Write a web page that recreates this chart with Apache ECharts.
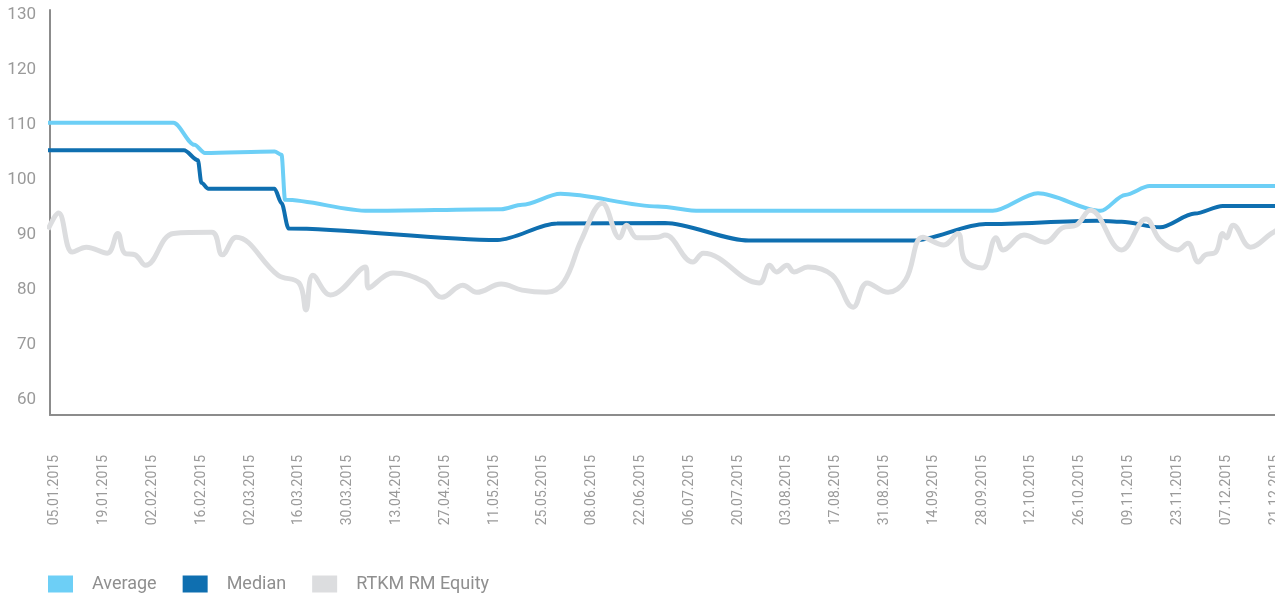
<!DOCTYPE html>
<html>
<head>
<meta charset="utf-8">
<style>
    html, body { margin: 0; padding: 0; background: #fff; }
    #chart { width: 1275px; height: 594px; }
</style>
</head>
<body>
<div id="chart"></div>
<script src="https://cdn.jsdelivr.net/npm/echarts@6/dist/echarts.min.js"></script>
<script>
    // x axis labels (every two weeks)
    let tickDates = ['2015-01-05','2015-01-19','2015-02-02','2015-02-16','2015-03-02','2015-03-16',
        '2015-03-30','2015-04-13','2015-04-27','2015-05-11','2015-05-25','2015-06-08','2015-06-22',
        '2015-07-06','2015-07-20','2015-08-03','2015-08-17','2015-08-31','2015-09-14','2015-09-28',
        '2015-10-12','2015-10-26','2015-11-09','2015-11-23','2015-12-07','2015-12-21'];
    let yTicks = [60, 70, 80, 90, 100, 110, 120, 130];

    let averageData = [
        ['2015-01-02',110.4],['2015-02-08',110.4],['2015-02-14',106.4],['2015-02-17',104.9],
        ['2015-03-09',105.2],['2015-03-11',104.6],['2015-03-12',96.4],['2015-04-05',94.4],
        ['2015-05-13',94.7],['2015-05-19',95.5],['2015-05-30',97.5],['2015-06-27',95.2],
        ['2015-07-09',94.4],['2015-10-01',94.4],['2015-10-14',97.6],['2015-11-01',94.4],
        ['2015-11-08',97.3],['2015-11-15',98.9],['2015-12-31',98.9]
    ];
    let medianData = [
        ['2015-01-02',105.4],['2015-02-11',105.4],['2015-02-15',103.6],['2015-02-16',99.5],
        ['2015-02-18',98.4],['2015-03-09',98.4],['2015-03-11',95.8],['2015-03-13',91.2],
        ['2015-05-12',89.1],['2015-05-29',92.1],['2015-06-29',92.2],['2015-07-23',89.0],
        ['2015-09-08',89.0],['2015-09-29',92.0],['2015-10-31',92.6],['2015-11-07',92.4],
        ['2015-11-18',91.4],['2015-11-28',93.9],['2015-12-06',95.3],['2015-12-31',95.3]
    ];
    let equityData = [
        ['2015-01-03',91.0],['2015-01-06',94.0],['2015-01-10',86.9],['2015-01-14',87.8],
        ['2015-01-20',86.7],['2015-01-23',90.3],['2015-01-25',86.7],['2015-01-28',86.4],
        ['2015-01-31',84.5],['2015-02-08',90.3],['2015-02-19',90.5],['2015-02-22',86.4],
        ['2015-02-26',89.6],['2015-03-10',82.7],['2015-03-16',81.3],['2015-03-18',76.4],
        ['2015-03-20',82.7],['2015-03-25',79.1],['2015-04-04',84.2],['2015-04-05',80.4],
        ['2015-04-12',83.1],['2015-04-21',81.5],['2015-04-26',78.7],['2015-05-02',80.9],
        ['2015-05-06',79.6],['2015-05-13',81.1],['2015-05-19',80.0],['2015-05-26',79.6],
        ['2015-05-31',81.5],['2015-06-05',89.1],['2015-06-11',95.8],['2015-06-16',89.5],
        ['2015-06-18',91.8],['2015-06-21',89.5],['2015-06-27',89.6],['2015-06-29',90.0],
        ['2015-07-07',85.1],['2015-07-10',86.7],['2015-07-26',81.3],['2015-07-29',84.5],
        ['2015-07-31',83.3],['2015-08-03',84.5],['2015-08-05',83.3],['2015-08-09',84.2],
        ['2015-08-16',82.7],['2015-08-22',76.9],['2015-08-26',81.3],['2015-09-01',79.6],
        ['2015-09-06',81.8],['2015-09-11',89.6],['2015-09-17',88.2],['2015-09-21',90.3],
        ['2015-09-23',85.5],['2015-09-28',84.0],['2015-10-02',89.5],['2015-10-04',87.3],
        ['2015-10-10',90.0],['2015-10-16',88.7],['2015-10-21',91.3],['2015-10-25',91.8],
        ['2015-10-29',94.5],['2015-11-07',87.3],['2015-11-14',92.9],['2015-11-18',89.1],
        ['2015-11-23',87.3],['2015-11-26',88.5],['2015-11-29',85.1],['2015-12-01',86.4],
        ['2015-12-04',86.9],['2015-12-06',90.3],['2015-12-07',89.5],['2015-12-09',91.8],
        ['2015-12-14',87.8],['2015-12-20',90.3],['2015-12-23',91.5]
    ];

    // days counted from 05.01.2015
    let day0 = Date.UTC(2015, 0, 5);
    function toDay(s){
        let p = s.split('-');
        return (Date.UTC(+p[0], +p[1] - 1, +p[2]) - day0) / 864e5;
    }
    function pad(n){ return (n < 10 ? '0' : '') + n; }
    function fmtDay(v){
        let d = new Date(day0 + Math.round(v) * 864e5);
        return pad(d.getUTCDate()) + '.' + pad(d.getUTCMonth() + 1) + '.' + d.getUTCFullYear();
    }
    function points(arr){
        return arr.map(function(i){ return [toDay(i[0]), i[1]]; });
    }

    let chart = echarts.init(document.getElementById('chart'));
    let option = {
        animation: false,
        backgroundColor: '#fff',
        grid: { left: 50, right: 0, top: 10, bottom: 179, containLabel: false, outerBoundsMode: 'none' },
        legend: {
            left: 43,
            top: 570,
            icon: 'rect',
            itemWidth: 25,
            itemHeight: 17,
            itemGap: 26,
            textStyle: { color: '#8f8f8f', fontSize: 18, fontFamily: 'Roboto', padding: [0, 0, 0, 14] },
            data: ['Average', 'Median', 'RTKM RM Equity']
        },
        xAxis: {
            type: 'value',
            min: -1.43,
            max: 350,
            splitLine: { show: false },
            axisLine: { onZero: false, lineStyle: { color: '#8c8c8c', width: 2 } },
            axisTick: { show: false },
            axisLabel: {
                rotate: 90,
                margin: 40,
                color: '#9a9a9a',
                fontSize: 14,
                fontFamily: 'Roboto',
                customValues: tickDates.map(toDay),
                formatter: fmtDay
            }
        },
        yAxis: {
            type: 'value',
            min: 57.3,
            max: 130.9,
            splitLine: { show: false },
            axisLine: { show: true, onZero: false, lineStyle: { color: '#8c8c8c', width: 2 } },
            axisTick: { show: false },
            axisLabel: {
                margin: 14,
                color: '#9a9a9a',
                fontSize: 17,
                fontFamily: 'Roboto',
                customValues: yTicks
            }
        },
        series: [
            {
                name: 'Average',
                type: 'line',
                data: points(averageData),
                smooth: 0.3,
                smoothMonotone: 'x',
                showSymbol: false,
                color: '#6dcff6',
                lineStyle: { width: 4 }
            },
            {
                name: 'Median',
                type: 'line',
                data: points(medianData),
                smooth: 0.3,
                smoothMonotone: 'x',
                showSymbol: false,
                color: '#0f6fb0',
                lineStyle: { width: 4 }
            },
            {
                name: 'RTKM RM Equity',
                type: 'line',
                data: points(equityData),
                smooth: 0.4,
                showSymbol: false,
                color: '#dcdddf',
                lineStyle: { width: 5 }
            }
        ]
    };
    chart.setOption(option);
</script>
</body>
</html>
